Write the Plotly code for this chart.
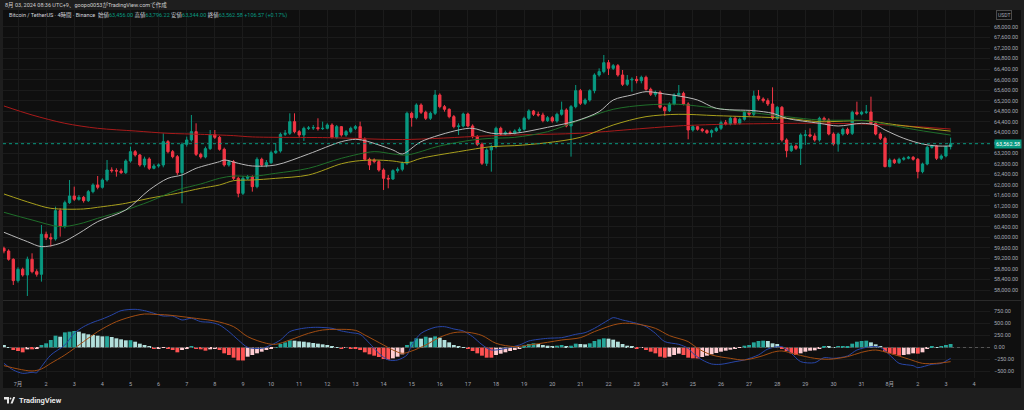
import plotly.graph_objects as go

# BTCUSDT 4h candles (UTC+9), Jun 30 13:00 -> Aug 3 05:00, index = bar number
opens = [59585, 59484, 59167, 58356, 58787, 58571, 59167, 58698, 58597, 60118,
         59991, 59940, 61017, 60434, 61322, 61575, 61448, 61524, 61398, 61740,
         61993, 61904, 62183, 62563, 62538, 62525, 62462, 62906, 63260, 63134,
         62754, 62982, 62627, 62716, 62754, 63641, 63260, 63070, 62462, 63539,
         63704, 64021, 63159, 63058, 63375, 63907, 63805, 63349, 62754, 62880,
         62247, 61676, 62247, 62310, 61930, 62969, 62753, 62842, 63222, 63286,
         63919, 63957, 64401, 64021, 63894, 64147, 64160, 64173, 64135, 64147,
         64274, 63805, 64211, 63894, 64021, 64147, 64211, 63729, 62969, 62943,
         62880, 62563, 62246, 62221, 62538, 62589, 62817, 64718, 64553, 65035,
         64756, 64528, 64718, 65415, 64971, 64870, 64591, 64211, 64236, 64692,
         64236, 63831, 63539, 62817, 63324, 63450, 64148, 63932, 63983, 63958,
         64046, 64110, 64528, 64807, 64680, 64655, 64439, 64553, 64427, 64680,
         64845, 64237, 64971, 65579, 65098, 65224, 65579, 66175, 66302, 66644,
         66428, 66530, 66175, 65820, 65985, 66010, 65960, 66086, 65630, 65440,
         65516, 64946, 64819, 65072, 65415, 65478, 65072, 64084, 64211, 64110,
         64059, 63983, 64059, 64148, 64363, 64312, 64528, 64338, 64490, 64756,
         64680, 65377, 65263, 65199, 65073, 64528, 64946, 63704, 63298, 63476,
         63387, 63870, 63900, 63856, 63704, 64528, 64464, 63932, 63552, 63932,
         64109, 63957, 64756, 64692, 64756, 64768, 64338, 63932, 63767, 62690,
         62943, 62842, 62969, 63007, 63045, 62969, 62500, 62791, 63425, 63476,
         63007, 63096, 63456]
highs = [59649, 59547, 59205, 58863, 58850, 59269, 59395, 58787, 60472, 60219,
         60156, 61169, 61106, 61398, 62183, 61930, 61613, 61575, 61803, 62057,
         62335, 62247, 62944, 62665, 62627, 62614, 62969, 63451, 63324, 63172,
         63070, 63045, 62792, 62817, 63958, 63704, 63324, 63134, 63603, 63831,
         64655, 64338, 63222, 63451, 64084, 64084, 63856, 63413, 62944, 62944,
         62310, 62335, 62373, 62360, 63045, 63032, 62943, 63298, 63577, 63983,
         64084, 64718, 64718, 64084, 64211, 64236, 64274, 64528, 64401, 64338,
         64338, 64274, 64236, 64084, 64211, 64274, 64401, 63805, 63032, 63007,
         62943, 62627, 62373, 62589, 62665, 62880, 64781, 64781, 65098, 65098,
         64819, 64781, 65605, 65478, 65035, 64908, 64654, 64338, 64743, 64743,
         64299, 63894, 63602, 63387, 63514, 64211, 64211, 64059, 64059, 64110,
         64186, 64591, 64870, 64845, 64781, 64743, 64617, 64617, 64743, 65162,
         64908, 65034, 65795, 65643, 65288, 65630, 66238, 66428, 66935, 66745,
         66594, 66594, 66365, 66175, 66086, 66137, 66150, 66150, 65694, 65579,
         65579, 64996, 65136, 65478, 65795, 65541, 65136, 64274, 64237, 64160,
         64110, 64110, 64211, 64439, 64464, 64591, 64591, 64553, 64819, 64819,
         65579, 65605, 65326, 65288, 65706, 64997, 64997, 63767, 63539, 63526,
         63957, 64084, 64147, 63957, 64591, 64591, 64528, 63995, 63983, 64173,
         64173, 64819, 65161, 64819, 65035, 65351, 64401, 63995, 63831, 63007,
         62994, 63032, 63070, 63096, 63096, 63020, 62842, 63476, 63526, 63514,
         63159, 63476, 63796.22]
lows = [59395, 59116, 58191, 58280, 58508, 57773, 58635, 58508, 58318, 59902,
        59649, 59877, 60029, 60346, 61271, 61385, 61398, 61322, 61347, 61676,
        61828, 61854, 62120, 62462, 62310, 62411, 62411, 62842, 63070, 62690,
        62665, 62563, 62589, 62652, 62665, 63197, 63007, 62373, 61296, 63451,
        63641, 63096, 62994, 63007, 63324, 63742, 63299, 62690, 62690, 62183,
        61524, 61613, 62183, 61740, 61866, 62690, 62665, 62791, 63172, 63222,
        63856, 63894, 63957, 63805, 63666, 64084, 64084, 64059, 64084, 64109,
        63755, 63755, 63831, 63831, 63957, 64084, 63679, 62900, 62563, 62817,
        62500, 61803, 61866, 62183, 62462, 62513, 62753, 64211, 64490, 64692,
        64464, 64464, 64654, 64908, 64781, 64528, 64147, 63894, 64185, 64185,
        63767, 63476, 62753, 62715, 62500, 63387, 63856, 63881, 63907, 63907,
        63983, 64059, 64465, 64617, 64591, 64376, 64389, 64363, 64363, 64629,
        64186, 63070, 64908, 65034, 65034, 65162, 65478, 66112, 66238, 66175,
        66365, 66112, 65757, 65757, 65541, 65858, 65858, 65579, 65377, 65351,
        64895, 64617, 64769, 65022, 65351, 65022, 63729, 64020, 64059, 63996,
        63932, 63805, 64008, 64084, 64261, 64261, 64274, 64287, 64439, 64616,
        64616, 65199, 65123, 64997, 64464, 64464, 63640, 63045, 63248, 63324,
        62753, 63514, 63805, 63640, 63640, 64401, 63881, 63488, 63260, 63869,
        63894, 63894, 64642, 64642, 64692, 64274, 63881, 63704, 62665, 62665,
        62791, 62791, 62918, 62969, 62918, 62246, 62437, 62741, 63374, 62943,
        62943, 63045, 63344]
closes = [59484, 59167, 58356, 58787, 58571, 59167, 58698, 58597, 60118, 59991,
          59940, 61017, 60434, 61322, 61575, 61448, 61524, 61398, 61740, 61993,
          61904, 62183, 62563, 62538, 62525, 62462, 62906, 63260, 63134, 62754,
          62982, 62627, 62716, 62754, 63641, 63260, 63070, 62462, 63539, 63704,
          64021, 63159, 63058, 63375, 63907, 63805, 63349, 62754, 62880, 62247,
          61676, 62247, 62310, 61930, 62969, 62753, 62842, 63222, 63286, 63919,
          63957, 64401, 64021, 63894, 64147, 64160, 64173, 64135, 64147, 64274,
          63805, 64211, 63894, 64021, 64147, 64211, 63729, 62969, 62753, 62880,
          62563, 62246, 62221, 62538, 62589, 62817, 64718, 64553, 65035, 64756,
          64528, 64718, 65415, 64971, 64870, 64591, 64211, 64236, 64692, 64236,
          63831, 63539, 62817, 63324, 63450, 64148, 63932, 63983, 63958, 64046,
          64110, 64528, 64807, 64680, 64655, 64439, 64553, 64427, 64680, 64845,
          64237, 64971, 65579, 65098, 65224, 65579, 66175, 66302, 66644, 66428,
          66530, 66175, 65820, 65985, 66010, 65960, 66086, 65630, 65440, 65516,
          64946, 64819, 65072, 65415, 65478, 65072, 64084, 64211, 64110, 64059,
          63983, 64059, 64148, 64363, 64312, 64528, 64338, 64490, 64756, 64680,
          65377, 65263, 65199, 65073, 64528, 64946, 63704, 63298, 63476, 63387,
          63894, 63900, 63856, 63704, 64528, 64464, 63932, 63552, 63932, 64109,
          63957, 64756, 64692, 64756, 64768, 64338, 63932, 63767, 62690, 62943,
          62842, 62969, 63007, 63045, 62969, 62500, 62791, 63425, 63476, 63007,
          63096, 63456.01, 63562.58]

# moving averages, read at sample bars
ma_white_x = [0, 5, 8, 12, 16, 20, 26, 31, 35, 38, 41, 46, 47, 50, 53, 58, 65, 72, 75, 77,
              83, 85, 89, 97, 100, 104, 109, 116, 122, 127, 130, 134, 137, 141, 144, 148,
              152, 160, 164, 167, 174, 178, 183, 186, 188, 192, 196, 199, 202]
ma_white_y = [60194, 59839, 59649, 59776, 60156, 60599, 61043, 61803, 62247, 62374,
              62627, 62880, 62944, 62817, 62716, 62753, 63172, 63640, 63729, 63679,
              63324, 63172, 63640, 64084, 64147, 63960, 63958, 64186, 64426, 64781,
              65224, 65415, 65541, 65453, 65377, 65224, 64908, 64819, 64718, 64528,
              64338, 64236, 64338, 64274, 64084, 63767, 63552, 63476, 63476]
ma_green_x = [0, 6, 12, 16, 20, 26, 31, 37, 42, 46, 49, 53, 58, 65, 72, 79, 83, 86, 93, 100,
              104, 109, 116, 123, 130, 137, 144, 152, 167, 174, 184, 188, 195, 202]
ma_green_y = [60954, 60663, 60409, 60510, 60726, 61043, 61360, 61803, 62031, 62247,
              62335, 62320, 62437, 62627, 63007, 63260, 63172, 63134, 63476, 63704,
              63767, 63805, 64020, 64464, 64870, 65034, 65060, 64908, 64591, 64464,
              64439, 64312, 64080, 63890]
ma_yellow_x = [0, 6, 10, 17, 20, 26, 31, 37, 42, 46, 49, 53, 58, 65, 72, 75, 79, 83, 86, 89,
               97, 104, 109, 116, 123, 130, 137, 144, 152, 167, 174, 184, 188, 195, 202]
ma_yellow_y = [61651, 61296, 61106, 61081, 61144, 61296, 61486, 61676, 61866, 61993,
               62157, 62183, 62246, 62373, 62800, 62900, 62943, 62905, 62842, 63007,
               63260, 63450, 63488, 63602, 63805, 64274, 64591, 64680, 64629, 64528,
               64401, 64439, 64338, 64180, 64040]
ma_red_x = [0, 6, 13, 20, 28, 35, 42, 49, 53, 70, 85, 102, 110, 123, 137, 144, 153, 160, 175, 188, 202]
ma_red_y = [64997, 64655, 64338, 64148, 64046, 63958, 63919, 63869, 63820, 63790,
            63720, 63850, 63900, 63960, 64150, 64240, 64300, 64320, 64340, 64280, 64120]

# MACD pane
macd_hist = [52, 3, -52, -73, -100, -38, -38, -31, 52, 87, 156, 246, 225, 315, 329, 343, 329, 294, 274, 260,
             246, 232, 235, 218, 191, 170, 149, 152, 121, 80, 52, 17, -31, -17, -3, -31, -52, -100, -52, -17,
             17, -17, -38, -66, -38, -17, -52, -121, -156, -211, -267, -270, -191, -156, -121, -87, -52, -17, 3, 73,
             107, 149, 142, 128, 121, 107, 94, 80, 66, 52, 31, 3, -17, -10, -17, -17, -52, -100, -142, -170,
             -197, -239, -253, -225, -191, -142, 52, 121, 191, 184, 225, 204, 232, 204, 156, 107, 52, 17, 10, -31,
             -73, -121, -170, -211, -211, -156, -128, -100, -73, -52, -31, 38, 73, 87, 73, 52, 38, 31, 38, 52,
             17, 38, 80, 73, 66, 87, 135, 170, 191, 184, 163, 121, 73, 38, 17, -17, -10, -52, -87, -121,
             -191, -211, -191, -156, -128, -156, -211, -225, -228, -197, -170, -142, -114, -87, -66, -45, -24, -3, 38, 52,
             107, 135, 142, 135, 87, 73, -31, -73, -121, -156, -121, -87, -66, -59, -31, 31, 17, 3, 17, 24,
             31, 80, 121, 135, 142, 107, 66, 17, -87, -121, -142, -170, -156, -142, -121, -128, -100, -31, 17, 10,
             31, 52, 73]
macd_x = [0, 2, 4, 6, 7, 8, 10, 13, 15, 17, 19, 21, 23, 25, 28, 30, 32, 34, 36, 38, 40, 42, 44, 46, 48,
          50, 52, 55, 57, 59, 61, 63, 65, 67, 70, 72, 74, 76, 78, 80, 82, 84, 86, 87, 89, 92, 94, 96, 98,
          100, 102, 104, 110, 112, 116, 119, 122, 124, 126, 129, 130, 132, 135, 137, 139, 141, 144, 146,
          147, 149, 151, 153, 156, 158, 161, 163, 166, 168, 170, 173, 175, 177, 180, 182, 185, 187, 189,
          191, 194, 195, 198, 200, 202]
macd_y = [-329, -468, -537, -516, -523, -398, -156, 52, 295, 433, 524, 593, 676, 766, 794, 766, 711, 655,
          655, 572, 607, 538, 524, 468, 330, 156, 4, -17, 52, 156, 330, 385, 413, 420, 399, 344, 309, 274,
          87, -121, -259, -259, -156, 52, 295, 420, 433, 385, 344, 226, 60, -52, 52, 136, 191, 205, 274,
          309, 399, 572, 621, 572, 503, 434, 295, 122, 66, -17, -121, -259, -343, -349, -294, -259, -155,
          -31, 18, -121, -294, -315, -211, -225, -176, -52, 18, 4, -155, -329, -377, -419, -349, -329, -225]
signal_x = [0, 3, 6, 8, 10, 13, 17, 20, 24, 28, 30, 32, 35, 38, 42, 45, 49, 52, 56, 58, 61, 65, 68,
            71, 75, 77, 81, 83, 85, 87, 90, 93, 96, 99, 102, 105, 109, 112, 116, 119, 123, 126, 130,
            132, 135, 139, 142, 146, 148, 151, 155, 158, 162, 164, 166, 169, 173, 176, 180, 183, 186,
            189, 193, 196, 199, 202]
signal_y = [-377, -446, -488, -446, -329, -156, 122, 330, 538, 662, 697, 690, 676, 642, 593, 551, 434,
            226, 87, 66, 156, 295, 364, 378, 357, 260, 52, -52, -121, -73, 52, 212, 309, 316, 250, 87,
            18, 52, 108, 156, 205, 330, 468, 503, 489, 399, 247, 122, -17, -155, -225, -259, -169, -100,
            -72, -142, -225, -245, -190, -100, -52, -121, -239, -329, -329, -294]

day_ticks = [3, 9, 15, 21, 27, 33, 39, 45, 51, 57, 63, 69, 75, 81, 87, 93, 99, 105, 111, 117,
             123, 129, 135, 141, 147, 153, 159, 165, 171, 177, 183, 189, 195, 201, 207]
day_labels = ["7月", "2", "3", "4", "5", "6", "7", "8", "9", "10", "11", "12", "13", "14", "15",
              "16", "17", "18", "19", "20", "21", "22", "23", "24", "25", "26", "27", "28", "29",
              "30", "31", "8月", "2", "3", "4"]
price_ticks = list(range(58000, 68001, 400))
macd_ticks = [-500, -250, 0, 250, 500, 750]

W, H = 1024, 410
def fx(p):
    return p / W
def fy(p):
    return 1 - p / H

UP, DOWN = "#089981", "#f23645"
PANEL = "#0f0f0f"
GRID = "#1b1b1b"
TXT = "#a3a6af"
FONT = "Roboto, 'Noto Sans CJK JP', sans-serif"

bars = list(range(len(closes)))

fig = go.Figure()
fig.add_trace(go.Candlestick(x=bars, open=opens, high=highs, low=lows, close=closes,
                             increasing=dict(line=dict(color=UP, width=1), fillcolor=UP),
                             decreasing=dict(line=dict(color=DOWN, width=1), fillcolor=DOWN),
                             whiskerwidth=0, xaxis="x", yaxis="y", hoverinfo="skip"))

for mx, my, col in [(ma_red_x, ma_red_y, "#a81a1a"),
                    (ma_yellow_x, ma_yellow_y, "#a89f1c"),
                    (ma_green_x, ma_green_y, "#1f6e2a"),
                    (ma_white_x, ma_white_y, "#b8b8b8")]:
    fig.add_trace(go.Scatter(x=mx, y=my, mode="lines", xaxis="x", yaxis="y",
                             line=dict(color=col, width=1, shape="spline", smoothing=0.9),
                             hoverinfo="skip"))

# histogram colour: growing / falling above and below zero
hist_cols = []
for k, h in enumerate(macd_hist):
    prev = macd_hist[k - 1] if k else h
    if h >= 0:
        hist_cols.append("#26a69a" if h > prev else "#b2dfdb")
    else:
        hist_cols.append("#ffcdd2" if h > prev else "#ff5252")

fig.add_trace(go.Bar(x=bars, y=macd_hist, marker=dict(color=hist_cols, line=dict(width=0)),
                     xaxis="x2", yaxis="y2", hoverinfo="skip"))
fig.add_trace(go.Scatter(x=macd_x, y=macd_y, mode="lines", xaxis="x2", yaxis="y2",
                         line=dict(color="#2846a8", width=1, shape="spline", smoothing=0.8),
                         hoverinfo="skip"))
fig.add_trace(go.Scatter(x=signal_x, y=signal_y, mode="lines", xaxis="x2", yaxis="y2",
                         line=dict(color="#a24d12", width=1, shape="spline", smoothing=0.9),
                         hoverinfo="skip"))

x_range = [-0.2, 210.4]
axis_common = dict(showline=False, zeroline=False, ticks="", gridcolor=GRID, gridwidth=1,
                   tickfont=dict(size=5.5, color=TXT, family=FONT))

fig.update_layout(
    width=W, height=H, margin=dict(l=0, r=0, t=0, b=0),
    paper_bgcolor="#1e1e1e", plot_bgcolor=PANEL, showlegend=False, bargap=0.18,
    font=dict(family=FONT, size=5.5, color=TXT),
    xaxis=dict(domain=[fx(3), fx(990)], range=x_range, anchor="y", tickvals=day_ticks,
               showticklabels=False, rangeslider=dict(visible=False), **axis_common),
    xaxis2=dict(domain=[fx(3), fx(990)], range=x_range, anchor="y2", matches="x",
                tickvals=day_ticks, ticktext=day_labels, ticklabelstandoff=1, **axis_common),
    yaxis=dict(domain=[fy(300), fy(10)], range=[57620, 68646], anchor="x", side="right",
               tickvals=price_ticks, tickformat=",.2f", ticklabelstandoff=3, **axis_common),
    yaxis2=dict(domain=[fy(378), fy(301)], range=[-634, 967], anchor="x2", side="right",
                tickvals=macd_ticks, tickformat=",.2f", ticklabelstandoff=3, **axis_common),
)

last = closes[-1]
chg = closes[-1] - closes[-2]
pct = chg / closes[-2] * 100

shapes = [
    dict(type="rect", xref="paper", yref="paper", x0=fx(3), x1=fx(1021), y0=fy(388), y1=fy(10),
         fillcolor=PANEL, line=dict(width=0), layer="below"),
    dict(type="line", xref="paper", yref="paper", x0=fx(3), x1=fx(1021), y0=fy(300.5), y1=fy(300.5),
         line=dict(color="#2a2a2a", width=1)),
    dict(type="line", xref="paper", yref="y", x0=fx(3), x1=fx(990), y0=last, y1=last,
         line=dict(color=UP, width=1, dash="dot")),
    dict(type="line", xref="paper", yref="y2", x0=fx(3), x1=fx(990), y0=0, y1=0,
         line=dict(color="#555555", width=1, dash="dot")),
    # TradingView logo mark
    dict(type="path", xref="paper", yref="paper",
         path="M %f %f L %f %f L %f %f L %f %f L %f %f L %f %f Z" % (
             fx(4), fy(397), fx(9), fy(397), fx(9), fy(403.5), fx(7), fy(403.5),
             fx(7), fy(399.5), fx(4), fy(399.5)),
         fillcolor="#e6e6e6", line=dict(width=0)),
    dict(type="circle", xref="paper", yref="paper", x0=fx(9.6), x1=fx(11.4), y0=fy(399.4), y1=fy(397.4),
         fillcolor="#e6e6e6", line=dict(width=0)),
    dict(type="path", xref="paper", yref="paper",
         path="M %f %f L %f %f L %f %f L %f %f Z" % (
             fx(10.5), fy(403.5), fx(13.2), fy(397), fx(15.2), fy(397), fx(12.6), fy(403.5)),
         fillcolor="#e6e6e6", line=dict(width=0)),
]

g = lambda v: "<span style='color:%s'>%s</span>" % (UP, v)
legend_txt = ("Bitcoin / TetherUS · 4時間 · Binance  始値%s 高値%s 安値%s 終値%s %s" % (
    g("{:,.2f}".format(opens[-1])), g("{:,.2f}".format(highs[-1])),
    g("{:,.2f}".format(lows[-1])), g("{:,.2f}".format(last)),
    g("{:+,.2f} ({:+.2f}%)".format(chg, pct))))

annotations = [
    dict(xref="paper", yref="paper", x=fx(3), y=fy(5), xanchor="left", yanchor="middle",
         text="8月 03, 2024 08:36 UTC+9、goopo0053がTradingView.comで作成", showarrow=False,
         font=dict(size=5.5, color="#cfcfcf")),
    dict(xref="paper", yref="paper", x=fx(7), y=fy(14.5), xanchor="left", yanchor="middle",
         text=legend_txt, showarrow=False, font=dict(size=5.5, color="#d1d4dc")),
    dict(xref="paper", yref="y", x=fx(994), y=last, xanchor="left", yanchor="middle",
         text="{:,.2f}".format(last), showarrow=False, bgcolor=UP, borderpad=1,
         font=dict(size=5.5, color="#ffffff")),
    dict(xref="paper", yref="paper", x=fx(996), y=fy(14.5), xanchor="left", yanchor="middle",
         text="USDT", showarrow=False, bordercolor="#4a4a4a", borderwidth=1, borderpad=1,
         font=dict(size=5, color=TXT)),
    dict(xref="paper", yref="paper", x=fx(17), y=fy(400.5), xanchor="left", yanchor="middle",
         text="<b>TradingView</b>", showarrow=False, font=dict(size=7.5, color="#e6e6e6")),
]

fig.update_layout(shapes=shapes, annotations=annotations)
# the page body has a default margin; drop it so the figure sits at the window origin
fig.write_html("out.html", config={"displayModeBar": False},
               post_script="document.body.style.margin='0';")
